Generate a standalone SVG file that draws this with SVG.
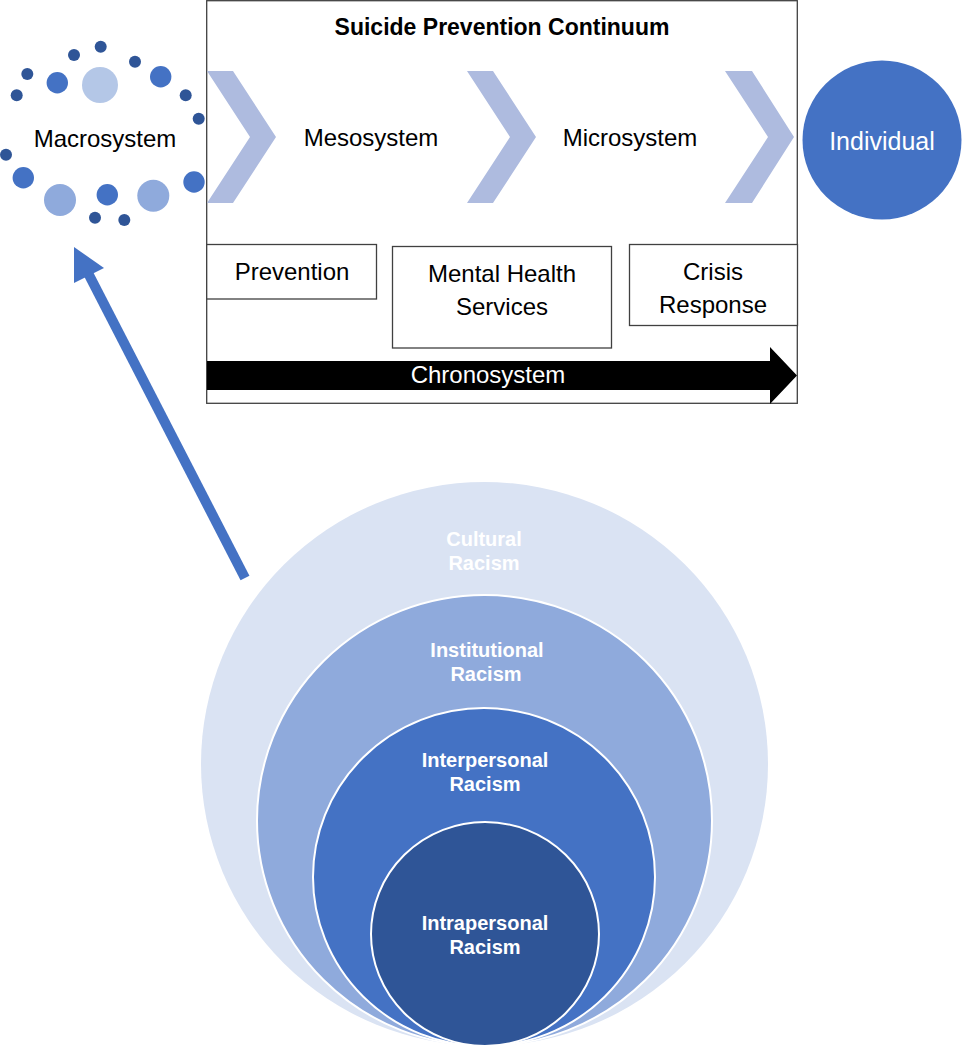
<svg xmlns="http://www.w3.org/2000/svg" width="962" height="1050" viewBox="0 0 962 1050">
<style>
text{font-family:"Liberation Sans",Arial,sans-serif;text-anchor:middle;dominant-baseline:central}
.lbl{font-size:24px;fill:#000}
.wl{font-size:24px;fill:#fff}
.rb{font-size:20px;font-weight:bold;fill:#fff}
.box{fill:#fff;stroke:#404040;stroke-width:1.3}
.chev{fill:#aebbdf}
.dk{fill:#2f5597}.md{fill:#4472c4}.lt{fill:#b4c7e7}.lt2{fill:#8faadc}
.ring{stroke:#fff;stroke-width:2}
</style>
<g id="continuum">
<rect class="box" x="206.7" y="0.7" width="590.6" height="402.6"/>
<text x="502" y="27" style="font-size:23px;font-weight:bold">Suicide Prevention Continuum</text>
</g>
<g id="chevrons">
<polygon class="chev" points="207,71 233,71 276,137 233,203 207,203 250,137"/>
<polygon class="chev" points="467,71 493,71 536,137 493,203 467,203 510,137"/>
<polygon class="chev" points="725,71 752,71 794,137 752,203 725,203 768,137"/>
</g>
<g id="macrosystem">
<circle class="dk" cx="100.7" cy="46.7" r="6"/>
<circle class="dk" cx="74" cy="55" r="6"/>
<circle class="dk" cx="135" cy="61.7" r="6"/>
<circle class="dk" cx="27.3" cy="74" r="6"/>
<circle class="md" cx="57.3" cy="82.7" r="10.7"/>
<circle class="lt" cx="100" cy="85" r="18"/>
<circle class="md" cx="160.7" cy="76.7" r="10.7"/>
<circle class="dk" cx="16.7" cy="95.3" r="6"/>
<circle class="dk" cx="185.7" cy="95.3" r="6"/>
<circle class="dk" cx="198.7" cy="118.7" r="6"/>
<circle class="dk" cx="6" cy="154.7" r="6"/>
<circle class="md" cx="23.3" cy="177.7" r="10.7"/>
<circle class="lt2" cx="60" cy="200" r="16"/>
<circle class="md" cx="107.3" cy="194.7" r="10.7"/>
<circle class="lt2" cx="153.3" cy="195.7" r="16"/>
<circle class="md" cx="194" cy="182" r="10.7"/>
<circle class="dk" cx="95" cy="217.7" r="6"/>
<circle class="dk" cx="124.3" cy="220" r="6"/>
<text class="lbl" x="105" y="138">Macrosystem</text>
</g>
<g id="mesosystem"><text class="lbl" x="371" y="137">Mesosystem</text></g>
<g id="microsystem"><text class="lbl" x="630" y="137">Microsystem</text></g>
<g id="individual">
<circle class="md" cx="882" cy="140" r="79.5"/>
<text class="wl" x="882" y="141" style="font-size:25px">Individual</text>
</g>
<g id="prevention">
<rect class="box" x="206.7" y="244.5" width="169.8" height="54.5"/>
<text class="lbl" x="292" y="271">Prevention</text>
</g>
<g id="mhs">
<rect class="box" x="392.5" y="246.5" width="219" height="101.5"/>
<text class="lbl" x="502" y="273">Mental Health</text>
<text class="lbl" x="502" y="306">Services</text>
</g>
<g id="crisis">
<rect class="box" x="629.5" y="244.5" width="168" height="81"/>
<text class="lbl" x="713" y="271">Crisis</text>
<text class="lbl" x="713" y="304">Response</text>
</g>
<g id="chronosystem">
<polygon fill="#000" points="207,361 770,361 770,347 797,375.5 770,404 770,390 207,390"/>
<text class="wl" x="488" y="374">Chronosystem</text>
</g>
<g id="racism">
<ellipse cx="484.5" cy="764" rx="283.5" ry="282" fill="#dae3f3"/>
<ellipse class="ring" cx="484.5" cy="820.5" rx="227.5" ry="225.5" fill="#8faadc"/>
<ellipse class="ring" cx="484" cy="877" rx="171" ry="169" fill="#4472c4"/>
<ellipse class="ring" cx="485" cy="934" rx="114" ry="112" fill="#2f5597"/>
<text class="rb" x="484" y="539">Cultural</text>
<text class="rb" x="484" y="563">Racism</text>
<text class="rb" x="487" y="650">Institutional</text>
<text class="rb" x="486" y="674">Racism</text>
<text class="rb" x="485" y="760">Interpersonal</text>
<text class="rb" x="485" y="784">Racism</text>
<text class="rb" x="485" y="923">Intrapersonal</text>
<text class="rb" x="485" y="947">Racism</text>
</g>
<g id="connectors">
<line x1="245" y1="578" x2="88" y2="273" stroke="#4472c4" stroke-width="10"/>
<polygon fill="#4472c4" points="74,247 104,268 74,283"/>
</g>
</svg>
